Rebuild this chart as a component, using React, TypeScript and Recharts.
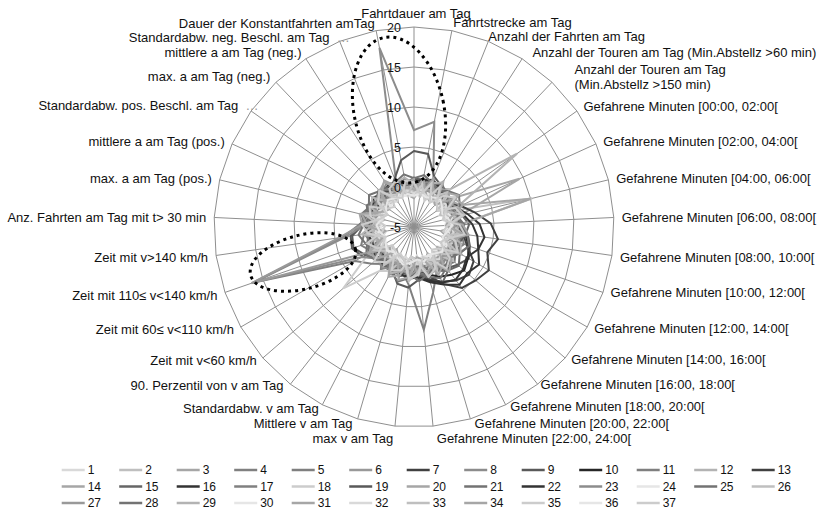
import React from 'react';
import { RadarChart, Radar, PolarGrid, PolarAngleAxis, PolarRadiusAxis } from 'recharts';

const FONT = '"Liberation Sans", Arial, sans-serif';

const AXES = [
  'Fahrtdauer am Tag',
  'Fahrtstrecke am Tag',
  'Anzahl der Fahrten am Tag',
  'Anzahl der Touren am Tag (Min.Abstellz >60 min)',
  'Anzahl der Touren am Tag\n(Min.Abstellz >150 min)',
  'Gefahrene Minuten [00:00, 02:00[',
  'Gefahrene Minuten [02:00, 04:00[',
  'Gefahrene Minuten [04:00, 06:00[',
  'Gefahrene Minuten [06:00, 08:00[',
  'Gefahrene Minuten [08:00, 10:00[',
  'Gefahrene Minuten [10:00, 12:00[',
  'Gefahrene Minuten [12:00, 14:00[',
  'Gefahrene Minuten [14:00, 16:00[',
  'Gefahrene Minuten [16:00, 18:00[',
  'Gefahrene Minuten [18:00, 20:00[',
  'Gefahrene Minuten [20:00, 22:00[',
  'Gefahrene Minuten [22:00, 24:00[',
  'max v am Tag',
  'Mittlere v am Tag',
  'Standardabw. v am Tag',
  '90. Perzentil von v am Tag',
  'Zeit mit v<60 km/h',
  'Zeit mit 60≤ v<110 km/h',
  'Zeit mit 110≤ v<140 km/h',
  'Zeit mit v>140 km/h',
  'Anz. Fahrten am Tag mit t> 30 min',
  'max. a am Tag (pos.)',
  'mittlere a am Tag (pos.)',
  'Standardabw. pos. Beschl. am Tag',
  'max. a am Tag (neg.)',
  'mittlere a am Tag (neg.)',
  'Standardabw. neg. Beschl. am Tag',
  'Dauer der Konstantfahrten amTag',
];

const RADIUS_TICKS = [-5, 0, 5, 10, 15, 20];

const SERIES_NAMES = Array.from({ length: 37 }, (_, i) => String(i + 1));

const SERIES_COLORS = [
  '#d9d9d9', '#bfbfbf', '#a6a6a6', '#808080', '#7f7f7f', '#999999', '#404040', '#8c8c8c', '#595959', '#262626',
  '#7f7f7f', '#b3b3b3', '#404040', '#a6a6a6', '#666666', '#333333', '#808080', '#cccccc', '#595959', '#a6a6a6',
  '#737373', '#333333', '#8c8c8c', '#e6e6e6', '#737373', '#bfbfbf', '#999999', '#737373', '#b3b3b3', '#e6e6e6',
  '#a6a6a6', '#d9d9d9', '#bfbfbf', '#a6a6a6', '#cccccc', '#e6e6e6', '#cccccc',
];

const s1 = [-1.2,0.6,-0.9,1.4,-1.0,0.3,-1.5,0.8,-0.6,1.6,-0.8,0.4,-1.3,1.1,-0.5,0.9,-1.4,0.2,1.3,-0.9,0.7,-1.2,1.0,-0.7,-1.5,0.5,-0.4,1.2,-0.8,0.3,-1.1,0.6,-0.9];
const s2 = [0.3,0.5,-0.2,0.6,0.9,-0.7,-0.4,10.2,0.6,-0.3,0.4,0.1,-0.6,-0.2,0.5,-0.4,-0.8,0.7,1.1,0.2,0.8,-0.3,0.5,-0.2,-0.7,0.9,0.3,-0.5,0.2,0.6,-0.4,0.1,0.4];
const s3 = [-0.8,0.9,-0.5,1.8,-0.2,1.4,9.5,0.8,-1.0,0.9,-0.4,1.9,-0.6,0.8,-1.2,1.1,-0.3,-1.0,0.6,-0.7,1.2,-0.5,1.6,-0.3,0.9,-1.1,0.5,-0.8,1.3,-0.6,0.9,-0.9,0.7];
const s4 = [0.6,0.9,1.4,0.8,-0.3,-0.8,-0.6,-0.2,0.4,1.0,1.6,0.9,1.3,2.0,1.2,3.5,7.9,2.2,0.6,1.1,0.5,-0.4,0.3,0.8,1.2,0.7,-0.3,0.4,1.0,0.2,-0.5,0.6,1.1];
const s5 = [1.2,0.8,0.3,-0.4,-0.9,-1.1,-0.7,0.2,1.1,1.8,2.3,1.5,0.7,0.2,-0.5,-1.0,-0.6,0.9,1.4,0.6,1.7,0.3,1.1,2.0,1.3,0.5,1.6,0.9,0.2,1.3,0.7,-0.2,0.5];
const s6 = [-0.7,-0.4,0.5,0.1,-0.6,0.4,1.3,0.8,-0.2,-0.8,-0.3,0.6,1.2,0.4,0.9,1.5,0.2,-0.6,-0.1,0.7,-0.5,1.2,0.4,-0.3,0.6,-0.2,0.8,1.4,0.5,-0.4,0.3,0.9,-0.1];
const s7 = [0.8,1.0,1.3,0.9,0.6,0.5,1.4,2.8,4.6,5.6,4.7,5.8,5.2,4.7,3.0,1.4,0.9,1.2,1.0,0.6,0.9,0.4,0.7,1.0,0.5,0.8,1.1,0.6,0.3,0.8,1.1,0.7,0.5];
const s8 = [7.1,8.4,1.5,0.6,-0.2,0.8,0.3,-0.4,0.5,1.2,0.7,-0.1,0.4,0.9,0.2,-0.6,0.1,0.8,1.3,0.5,1.0,0.2,-0.3,0.6,1.1,0.4,-0.2,0.7,0.3,0.9,1.4,1.0,17.8];
const s9 = [4.5,4.3,1.8,1.2,0.6,0.3,-0.3,0.4,1.0,1.8,2.4,2.9,2.2,1.6,1.0,0.5,0.9,1.4,1.0,0.7,0.4,1.0,2.4,3.2,3.0,1.8,0.8,1.0,1.3,0.8,0.5,1.5,3.5];
const s10 = [0.3,0.6,0.9,1.2,0.8,0.4,0.1,-0.2,0.7,1.5,2.2,2.8,3.3,2.6,2.0,1.2,0.6,0.8,1.0,0.6,0.3,0.5,0.2,0.6,0.9,1.2,0.8,0.4,0.2,0.6,0.4,0.2,0.5];
const s11 = [0.4,0.2,-0.3,0.5,1.1,0.6,-0.2,0.3,0.9,0.4,-0.3,0.2,0.8,1.3,0.6,0.1,-0.4,0.5,1.0,1.6,0.9,2.0,3.5,16.3,4.0,1.8,0.6,-0.2,0.4,1.1,0.3,-0.1,0.5];
const s12 = [-0.4,-0.6,0.1,0.7,1.5,10.8,0.9,0.2,-0.5,-0.9,-0.2,0.4,-0.3,-0.8,-0.4,0.2,0.8,0.1,-0.6,-0.2,0.5,-0.3,-0.8,-0.1,0.4,-0.5,0.2,-0.4,-0.9,-0.3,0.4,0.1,-0.2];
const s13 = [0.9,1.1,0.7,0.4,0.2,0.6,1.0,0.8,0.5,1.2,2.0,3.6,4.1,3.5,2.7,1.8,1.1,0.4,0.8,1.1,0.6,0.2,0.5,0.9,0.6,0.1,0.4,0.8,1.1,0.7,0.4,0.3,0.7];
const s14 = [-1.4,0.2,-1.0,1.1,-0.7,-1.5,0.3,-0.9,1.0,-1.6,-0.2,0.9,-1.1,0.6,-1.3,-0.4,0.8,-1.2,0.7,-0.8,-1.5,0.4,-0.6,1.2,-1.4,-0.1,0.9,-1.0,-0.3,0.8,-1.2,0.2,-0.9];
const s15 = [0.6,0.3,0.7,1.0,0.6,0.1,0.5,1.2,1.9,1.5,1.0,1.6,2.4,1.9,2.8,2.0,1.2,0.6,0.2,0.7,1.2,0.8,1.3,1.0,0.6,1.1,0.8,0.3,0.8,1.3,0.9,0.5,0.7];
const s16 = [0.4,0.7,1.0,0.6,0.2,0.0,0.8,1.9,3.2,3.9,3.5,4.4,3.8,4.2,3.1,2.2,1.4,1.0,1.3,0.8,0.4,0.2,0.6,0.9,0.5,0.3,0.7,0.4,0.1,0.5,0.8,0.6,0.3];
const s17 = [0.1,-0.3,0.6,1.1,0.4,-0.4,0.2,0.9,0.3,-0.5,0.4,1.0,0.5,-0.2,0.6,1.3,0.7,0.0,-0.5,0.3,1.0,0.4,-0.3,0.5,1.2,0.6,-0.1,0.5,1.1,0.4,-0.2,0.3,0.8];
const s18 = [-0.6,-0.2,0.3,-0.4,-0.9,-0.5,0.2,-0.3,-0.8,-0.3,0.4,-0.1,-0.6,-0.2,0.3,-0.5,-0.9,0.1,0.6,1.2,2.0,6.7,1.5,0.2,-0.4,0.3,-0.3,-0.7,-0.1,0.4,-0.2,-0.6,-0.3];
const s19 = [0.6,0.4,0.2,0.5,0.8,0.4,0.1,0.5,0.9,1.4,1.0,0.6,1.1,1.6,1.2,0.8,1.6,2.6,2.4,1.0,0.5,1.1,2.0,3.0,2.8,1.4,0.7,1.0,0.7,0.3,0.7,1.1,0.9];
const s20 = [-0.3,0.2,0.7,0.3,-0.4,0.5,1.6,10.0,0.8,0.1,-0.5,-0.1,0.6,0.2,-0.4,-0.8,-0.2,0.4,-0.1,-0.6,0.0,0.6,0.2,-0.3,0.3,0.8,0.1,-0.4,0.2,0.7,0.3,-0.2,0.1];
const s21 = [0.7,1.2,0.6,0.0,0.5,1.0,0.4,-0.3,0.6,1.3,0.8,0.1,0.9,1.5,0.9,0.3,-0.1,0.7,1.4,0.8,0.2,0.9,1.6,1.0,0.4,1.1,1.8,1.1,0.5,-0.1,0.6,1.3,0.7];
const s22 = [0.7,1.0,1.3,0.9,0.5,0.3,0.7,1.4,2.3,3.0,3.5,2.6,3.1,3.4,2.8,2.0,1.3,1.5,1.1,0.6,0.9,1.2,0.8,0.5,0.9,0.7,0.4,0.8,1.1,0.8,0.5,0.4,0.8];
const s23 = [0.2,0.6,1.0,0.4,-0.2,0.3,0.9,0.5,-0.1,0.4,1.1,0.6,0.0,0.5,1.2,0.7,0.2,0.6,0.1,0.8,1.5,1.0,2.5,16.0,3.6,1.2,0.5,0.9,0.3,-0.2,0.5,1.0,0.4];
const s24 = [-1.0,-0.8,-0.4,-0.9,-1.2,-0.7,-0.3,-0.8,-1.1,-0.6,-0.2,-0.7,-1.0,-0.5,-0.9,-1.2,-0.8,-0.4,-0.9,-0.5,-1.0,-0.6,-0.3,-0.8,-1.1,-0.7,-0.4,-0.9,-0.6,-1.0,-0.5,-0.8,-1.1];
const s25 = [0.5,0.1,0.8,1.4,0.9,0.3,-0.2,0.6,1.3,0.7,0.2,1.0,1.7,1.1,0.5,1.2,1.8,1.0,0.4,1.1,0.6,1.3,1.9,1.2,0.7,0.2,0.9,1.5,0.8,1.4,0.7,0.3,0.9];
const s26 = [-1.1,0.8,-1.3,0.5,1.4,-0.6,-1.4,0.6,-0.2,1.1,-1.3,0.2,1.5,-0.9,-0.2,1.0,-0.8,1.3,-1.2,0.9,-0.6,-1.5,0.7,1.1,-0.9,1.3,-0.7,-1.3,0.9,-0.4,-1.2,1.0,-0.6];
const s27 = [0.6,0.3,-0.1,0.7,1.2,0.5,0.0,0.6,0.2,-0.3,0.5,1.1,0.4,-0.2,0.3,0.9,0.4,1.0,0.5,0.0,0.7,1.4,1.1,16.5,4.5,1.5,0.8,0.2,0.7,1.2,0.6,0.1,0.4];
const s28 = [1.1,1.6,1.0,0.4,1.2,1.9,1.3,0.6,1.0,1.7,2.3,1.6,0.9,1.5,2.2,1.5,0.8,1.4,2.1,1.3,0.7,1.2,0.6,1.4,2.0,1.3,0.6,1.2,1.9,1.2,0.5,1.1,1.7];
const s29 = [0.4,-1.2,0.9,1.6,-0.8,-1.3,1.0,1.5,-0.5,-1.1,1.2,1.7,-0.6,-1.2,1.0,1.4,-0.9,-1.3,0.8,1.5,-0.2,-1.0,1.3,-0.7,1.6,0.2,-1.2,0.9,1.4,-0.8,-1.1,1.0,1.3];
const s30 = [-0.8,-1.1,-0.6,-0.2,-0.7,-1.0,-0.5,-0.1,-0.6,-1.1,-0.8,-0.3,-0.7,-1.2,-0.6,-0.2,-0.6,-1.0,-0.4,-0.8,-1.2,-0.7,-0.3,-0.9,-0.5,-1.0,-0.6,-0.2,-0.8,-1.1,-0.7,-0.4,-0.9];
const s31 = [-0.6,1.2,-0.8,-1.3,0.9,1.8,-0.5,-1.1,1.1,1.9,-0.3,-1.0,1.2,2.1,-0.2,-0.9,1.0,-0.9,1.3,2.0,-0.4,-1.0,1.4,0.6,-1.1,0.9,1.7,-0.6,-1.2,0.8,1.9,0.4,-0.8];
const s32 = [-0.7,-0.3,-0.8,-1.1,-0.5,-0.1,-0.6,-1.0,-0.4,0.0,-0.5,-0.9,-0.4,0.1,-0.4,-0.8,-0.3,-0.7,-1.1,-0.6,-0.2,-0.7,-1.0,-0.5,-0.1,-0.6,-1.0,-0.5,-0.2,-0.7,-1.1,-0.6,-0.4];
const s33 = [0.8,-1.1,1.3,-0.5,1.0,-1.2,-0.4,1.4,-0.8,0.7,-1.3,1.2,0.2,-1.0,1.5,-0.9,0.6,1.8,-0.7,-1.1,1.1,-0.4,0.8,-1.3,1.0,-0.6,1.2,-1.4,0.5,1.1,-0.9,0.3,-1.0];
const s34 = [1.0,-0.9,1.5,-0.6,-1.2,1.1,1.8,-0.4,-1.0,1.2,0.3,1.4,-1.1,0.9,1.7,-0.7,-1.2,1.3,1.9,-0.6,-1.0,1.0,1.6,-0.8,-1.1,1.5,2.0,-0.5,-0.9,1.2,1.8,-0.4,0.6];
const s35 = [-1.2,0.4,-1.5,1.0,-0.9,-1.4,0.7,1.2,-0.8,-1.3,0.5,1.3,-0.9,-1.4,0.8,1.5,-0.6,-1.3,0.6,1.1,-1.2,-1.5,0.3,1.2,-1.0,-1.4,0.6,1.1,-1.0,-1.5,0.7,1.2,-0.8];
const s36 = [-1.1,-0.7,-1.0,-0.6,-0.2,-0.7,-1.1,-0.6,-0.2,-0.8,-1.2,-0.7,-0.3,-0.8,-1.1,-0.5,-0.9,-0.5,-0.1,-0.6,-1.0,-0.5,-0.9,-1.2,-0.7,-0.3,-0.8,-1.2,-0.7,-0.3,-0.7,-1.0,-0.8];
const s37 = [0.6,-0.9,0.9,-1.4,0.4,1.3,-0.8,-1.3,0.7,1.4,-0.6,-1.2,0.9,1.6,-0.4,-1.1,1.0,1.5,-0.7,-1.3,0.6,1.6,-0.5,-1.2,0.8,1.5,-0.7,-1.3,0.5,1.3,-0.6,-1.1,0.9];

const SERIES = [
  s1, s2, s3, s4, s5, s6, s7, s8, s9, s10, s11, s12, s13, s14, s15, s16, s17, s18, s19,
  s20, s21, s22, s23, s24, s25, s26, s27, s28, s29, s30, s31, s32, s33, s34, s35, s36, s37,
];

const data = AXES.map((axis, i) => {
  const row: Record<string, any> = { axis };
  SERIES.forEach((s, k) => {
    row['s' + (k + 1)] = s[i];
  });
  return row;
});

// layout constants
const W = 831;
const H = 516;
const CX = 414;
const CY = 227;
const R = 200;
const LABEL_GAP = 8;
const LABEL_NUDGE: Record<number, [number, number]> = {
  0: [2, -6],
  1: [0, -1],
  2: [-3, 2],
  3: [6, 0],
  4: [17, 0],
  10: [0, -3],
  11: [0, -3],
  12: [0, -4],
  13: [-2, -6],
  14: [1, -6],
  15: [2, -4],
  16: [3, 4],
  17: [-1, 4],
  18: [-3, -4],
  19: [0, -4],
  20: [-2, -5],
  21: [0, -3],
  22: [0, -2],
  28: [14, -1],
  31: [13, 3],
};
const ELLIPSIS_LABELS = new Set([28, 31]);

function AngleTick(props: any) {
  const { payload, index } = props;
  const idx = typeof index === 'number' ? index : AXES.indexOf(payload.value);
  const angle = payload && typeof payload.coordinate === 'number' ? payload.coordinate : 90 - (idx * 360) / AXES.length;
  const rad = (angle * Math.PI) / 180;
  const c = Math.cos(rad);
  const s = Math.sin(rad);
  const nudge = LABEL_NUDGE[idx] || [0, 0];
  const x = CX + (R + LABEL_GAP) * c + nudge[0];
  const y = CY - (R + LABEL_GAP) * s + nudge[1];
  const anchor = Math.abs(c) < 0.05 ? 'middle' : c > 0 ? 'start' : 'end';
  const lines = String(payload.value).split('\n');
  const lh = 15;
  const y0 = y - ((lines.length - 1) * lh) / 2;
  return (
    <text x={x} y={y0} textAnchor={anchor} fontSize={13} fontFamily={FONT} fill="#111" dominantBaseline="central">
      {lines.map((ln, j) => (
        <tspan key={j} x={x} y={y0 + j * lh}>
          {ln}
          {ELLIPSIS_LABELS.has(idx) ? <tspan fill="#999">{'\u00a0\u00a0…'}</tspan> : null}
        </tspan>
      ))}
    </text>
  );
}

function RadiusTick(props: any) {
  const { x, y, payload } = props;
  return (
    <text x={x - 13} y={y + 1} textAnchor="end" dominantBaseline="central" fontSize={12.5} fontFamily={FONT} fill="#111">
      {payload.value}
    </text>
  );
}

const LEG_X0 = 61.7;
const LEG_PITCH = 57.5;
const LEG_Y0 = 470;
const LEG_ROW = 16.5;
const LEG_COLS = 13;

export default function App() {
  return (
    <div style={{ position: 'absolute', left: 0, top: 0, width: W, height: H, background: '#fff', fontFamily: FONT }}>
      <RadarChart
        width={W}
        height={H}
        cx={CX}
        cy={CY}
        outerRadius={R}
        data={data}
        startAngle={90}
        endAngle={-270}
        margin={{ top: 0, right: 0, bottom: 0, left: 0 }}
      >
        <PolarGrid gridType="polygon" stroke="#8f8f8f" strokeWidth={1} />
        <PolarAngleAxis dataKey="axis" tick={AngleTick} tickLine={false} axisLine={false} />
        <PolarRadiusAxis
          angle={90}
          type="number"
          domain={[RADIUS_TICKS[0], RADIUS_TICKS[RADIUS_TICKS.length - 1]]}
          tickCount={RADIUS_TICKS.length}
          axisLine={false}
          tickLine={false}
          tick={RadiusTick}
        />
        {SERIES.map((_, k) => (
          <Radar
            key={k}
            name={SERIES_NAMES[k]}
            dataKey={'s' + (k + 1)}
            stroke={SERIES_COLORS[k]}
            strokeWidth={2}
            fill="none"
            fillOpacity={0}
            dot={false}
            isAnimationActive={false}
          />
        ))}
      </RadarChart>
      <svg width={W} height={H} style={{ position: 'absolute', left: 0, top: 0, pointerEvents: 'none' }}>
        <ellipse
          cx={399}
          cy={110}
          rx={45}
          ry={74}
          transform="rotate(-12 399 110)"
          fill="none"
          stroke="#000"
          strokeWidth={3}
          strokeDasharray="3 4"
        />
        <ellipse
          cx={303}
          cy={262}
          rx={54}
          ry={27}
          transform="rotate(-14 303 262)"
          fill="none"
          stroke="#000"
          strokeWidth={3}
          strokeDasharray="3 4"
        />
        {SERIES_NAMES.map((name, k) => {
          const col = k % LEG_COLS;
          const row = Math.floor(k / LEG_COLS);
          const x0 = LEG_X0 + col * LEG_PITCH;
          const y = LEG_Y0 + row * LEG_ROW;
          return (
            <g key={name}>
              <line x1={x0} y1={y} x2={x0 + 23} y2={y} stroke={SERIES_COLORS[k]} strokeWidth={2.5} />
              <text x={x0 + 26} y={y} dominantBaseline="central" fontSize={12} fontFamily={FONT} fill="#111">
                {name}
              </text>
            </g>
          );
        })}
      </svg>
    </div>
  );
}
